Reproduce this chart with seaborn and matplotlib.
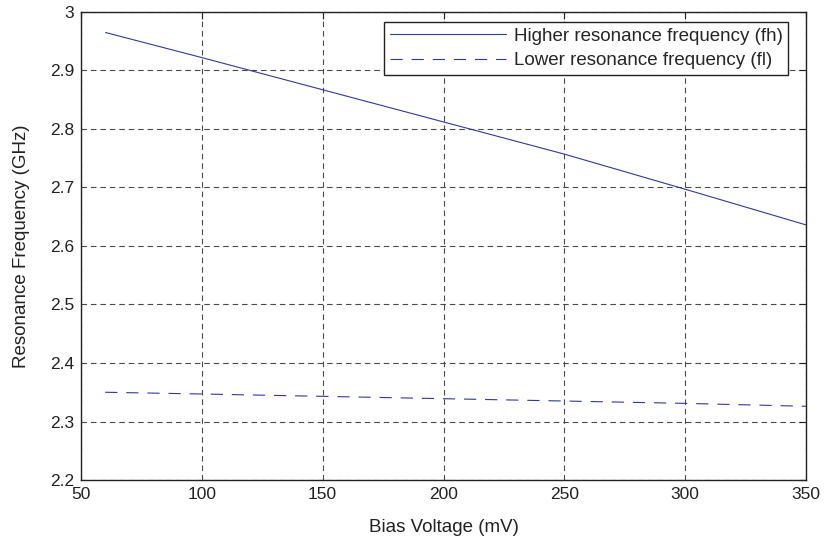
import matplotlib
matplotlib.use("Agg")
import matplotlib.pyplot as plt
import seaborn as sns
import pandas as pd
from matplotlib.lines import Line2D

bias_mv = [60, 100, 150, 200, 250, 300, 350]
f_high = [2.965, 2.922, 2.867, 2.812, 2.757, 2.697, 2.636]
f_low = [2.350, 2.347, 2.343, 2.339, 2.335, 2.331, 2.326]
labels = ["Higher resonance frequency (fh)", "Lower resonance frequency (fl)"]
xticks = [50, 100, 150, 200, 250, 300, 350]
yticks = [2.2, 2.3, 2.4, 2.5, 2.6, 2.7, 2.8, 2.9, 3.0]
yticklabels = ["2.2", "2.3", "2.4", "2.5", "2.6", "2.7", "2.8", "2.9", "3"]

sns.set_theme(style="white")
plt.rcParams["font.family"] = ["Liberation Sans", "DejaVu Sans"]

df = pd.DataFrame({
    "bias": bias_mv * 2,
    "freq": f_high + f_low,
    "series": [labels[0]] * len(bias_mv) + [labels[1]] * len(bias_mv),
})

fig = plt.figure(figsize=(8.24, 5.43), dpi=100)
ax = fig.add_axes([0.0983, 0.116, 0.8799, 0.862])
color = "#2f3a9e"
dash = (0, (11, 8))
sns.lineplot(data=df, x="bias", y="freq", hue="series", style="series",
             palette=[color, color], dashes=[(1, 0), dash[1]], linewidth=0.8,
             ax=ax, legend=False)

ax.set_xlim(50, 350)
ax.set_ylim(2.2, 3.0)
ax.set_xticks(xticks)
ax.set_yticks(yticks)
ax.set_yticklabels(yticklabels)
ax.tick_params(direction="in", length=5, width=0.8, top=True, right=True,
               labelsize=12.5, colors="#222222", pad=5)
ax.grid(True, color="#4a4a4a", linestyle=(0, (5, 3.5)), linewidth=0.8)
for s in ax.spines.values():
    s.set_color("#222222")
    s.set_linewidth(1.0)
ax.set_xlabel("Bias Voltage (mV)", fontsize=13.5, labelpad=12, color="#222222")
ax.set_ylabel("Resonance Frequency (GHz)", fontsize=13.5, labelpad=14, color="#222222")

handles = [Line2D([], [], color=color, lw=0.8, linestyle="-"),
           Line2D([], [], color=color, lw=0.8, linestyle=dash)]
leg = ax.legend(handles, labels, loc="upper right",
                bbox_to_anchor=(788 / 824, 1 - 22 / 543),
                bbox_transform=fig.transFigure, fontsize=13.5,
                frameon=True, fancybox=False, framealpha=1, edgecolor="#222222",
                handlelength=6.2, borderaxespad=0.0, borderpad=0.3,
                labelspacing=0.4, handletextpad=0.4)
leg.get_frame().set_linewidth(1.0)

fig.savefig("out.png", dpi=100)
